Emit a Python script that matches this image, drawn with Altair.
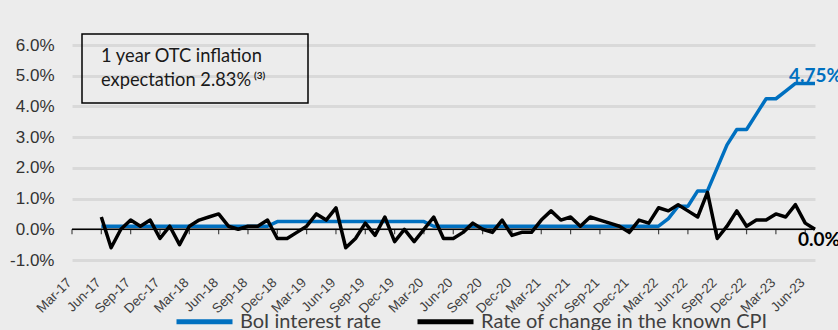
import altair as alt
import pandas as pd

# ---- data ----
tick_labels = ["Mar-17", "Jun-17", "Sep-17", "Dec-17", "Mar-18", "Jun-18", "Sep-18", "Dec-18",
               "Mar-19", "Jun-19", "Sep-19", "Dec-19", "Mar-20", "Jun-20", "Sep-20", "Dec-20",
               "Mar-21", "Jun-21", "Sep-21", "Dec-21", "Mar-22", "Jun-22", "Sep-22", "Dec-22",
               "Mar-23", "Jun-23"]

# monthly points Jun-17 ... Jul-23 (month index 3 ... 76, Mar-17 = 0)
boi_rate = [0.1, 0.1, 0.1, 0.1, 0.1, 0.1, 0.1,                       # Jun-Dec 17
            0.1, 0.1, 0.1, 0.1, 0.1, 0.1, 0.1, 0.1, 0.1, 0.1, 0.1, 0.25,  # 2018
            0.25, 0.25, 0.25, 0.25, 0.25, 0.25, 0.25, 0.25, 0.25, 0.25, 0.25, 0.25,  # 2019
            0.25, 0.25, 0.25, 0.1, 0.1, 0.1, 0.1, 0.1, 0.1, 0.1, 0.1, 0.1,  # 2020
            0.1, 0.1, 0.1, 0.1, 0.1, 0.1, 0.1, 0.1, 0.1, 0.1, 0.1, 0.1,     # 2021
            0.1, 0.1, 0.1, 0.35, 0.75, 0.75, 1.25, 1.25, 2.0, 2.75, 3.25, 3.25,  # 2022
            3.75, 4.25, 4.25, 4.5, 4.75, 4.75, 4.75]                       # Jan-Jul 23

cpi_change = [0.4, -0.6, 0.0, 0.3, 0.1, 0.3, -0.3,                    # Jun-Dec 17
              0.1, -0.5, 0.1, 0.3, 0.4, 0.5, 0.1, 0.0, 0.1, 0.1, 0.3, -0.3,  # 2018
              -0.3, -0.1, 0.1, 0.5, 0.3, 0.7, -0.6, -0.3, 0.2, -0.2, 0.4, -0.4,  # 2019
              0.0, -0.4, 0.0, 0.4, -0.3, -0.3, -0.1, 0.2, 0.0, -0.1, 0.3, -0.2,  # 2020
              -0.1, -0.1, 0.3, 0.6, 0.3, 0.4, 0.1, 0.4, 0.3, 0.2, 0.1, -0.1,     # 2021
              0.3, 0.2, 0.7, 0.6, 0.8, 0.6, 0.4, 1.2, -0.3, 0.1, 0.6, 0.1,       # 2022
              0.3, 0.3, 0.5, 0.4, 0.8, 0.2, 0.0]                                 # Jan-Jul 23

series_names = ["BoI interest rate", "Rate of change in the known CPI"]
series_colors = ["#0070C0", "#000000"]
first_month_index = 3  # Jun-17

rows = []
for i, (b, c) in enumerate(zip(boi_rate, cpi_change)):
    rows.append({"idx": first_month_index + i, "series": series_names[0], "value": b})
    rows.append({"idx": first_month_index + i, "series": series_names[1], "value": c})
df = pd.DataFrame(rows)
ticks_df = pd.DataFrame({"idx": [3 * k for k in range(len(tick_labels))]})
last_idx = first_month_index + len(boi_rate) - 1
end_df = pd.DataFrame({"idx": [last_idx], "boi": [boi_rate[-1]], "cpi": [cpi_change[-1]],
                       "boi_lbl": [f"{boi_rate[-1]:.2f}%"], "cpi_lbl": [f"{cpi_change[-1]:.1f}%"]})

label_array = "[" + ",".join(f"'{t}'" for t in tick_labels) + "]"

W, H = 743, 215
x_scale = alt.Scale(domain=[0, 76], nice=False, zero=False)
y_scale = alt.Scale(domain=[-1, 6], nice=False)

color = alt.Color("series:N", scale=alt.Scale(domain=series_names, range=series_colors),
                  legend=alt.Legend(title=None, orient="none", legendX=102, legendY=246,
                                    direction="horizontal", symbolType="stroke",
                                    symbolStrokeWidth=5, symbolSize=3136,
                                    labelFont="Lato", labelFontSize=20, labelColor="#404040",
                                    labelOffset=5, columnPadding=25, labelLimit=400))

x_axis = alt.Axis(values=[3 * k for k in range(len(tick_labels))],
                  labelExpr=f"{label_array}[round(datum.value/3)]",
                  labelAngle=-45, labelAlign="right", labelBaseline="middle",
                  labelFont="Liberation Sans", labelFontSize=13.5, labelColor="#404040",
                  labelPadding=20, labelOffset=-3, labelOverlap=False, labelBound=False,
                  ticks=False, domain=False, grid=False)
y_axis = alt.Axis(values=[-1, 0, 1, 2, 3, 4, 5, 6],
                  labelExpr="(datum.value < 0 ? '-' : '') + format(abs(datum.value), '.1f') + '%'",
                  labelFont="Liberation Sans", labelFontSize=17, labelColor="#333333",
                  labelPadding=18, labelOverlap=False, ticks=False, domain=False,
                  grid=True, gridColor="#d9d9d9", gridWidth=3)


def X(field):
    return alt.X(field, type="quantitative", scale=x_scale, title=None, axis=x_axis)


def Y(field):
    return alt.Y(field, type="quantitative", scale=y_scale, title=None, axis=y_axis)


y_zero = alt.YDatum(0, scale=y_scale, title=None, axis=y_axis)

base = alt.Chart(df)
blue = base.transform_filter(alt.datum.series == series_names[0]).mark_line(
    strokeWidth=3.5, strokeJoin="round").encode(x=X("idx"), y=Y("value"), color=color)
black = base.transform_filter(alt.datum.series == series_names[1]).mark_line(
    strokeWidth=3.5, strokeJoin="round").encode(x=X("idx"), y=Y("value"), color=color)

zero_line = alt.Chart(alt.Data(values=[{}])).mark_rule(color="black", strokeWidth=1.5).encode(
    y=y_zero)
tick_marks = alt.Chart(ticks_df).mark_tick(orient="vertical", size=5, thickness=1.2,
                                           color="black", yOffset=2.5).encode(
    x=X("idx"), y=y_zero)

boi_lbl = alt.Chart(end_df).mark_text(align="left", baseline="alphabetic", dx=-26, dy=-1,
                                      font="Lato", fontSize=19, fontWeight="bold",
                                      color="#0070C0").encode(
    x=X("idx"), y=Y("boi"), text="boi_lbl:N")
cpi_lbl = alt.Chart(end_df).mark_text(align="left", baseline="alphabetic", dx=-17, dy=17,
                                      font="Lato", fontSize=19, fontWeight="bold",
                                      color="#000000").encode(
    x=X("idx"), y=Y("cpi"), text="cpi_lbl:N")

one = alt.Data(values=[{}])
box = alt.Chart(one).mark_rect(fill="transparent", stroke="black", strokeWidth=1.5).encode(
    x=alt.value(10), x2=alt.value(236), y=alt.value(-11), y2=alt.value(58))
line1 = alt.Chart(one).mark_text(align="left", baseline="middle", font="Lato", fontSize=18.3,
                                 color="#1a1a1a", text="1 year OTC inflation").encode(
    x=alt.value(29), y=alt.value(12))
line2 = alt.Chart(one).mark_text(align="left", baseline="middle", font="Lato", fontSize=18.3,
                                 color="#1a1a1a", text="expectation 2.83%").encode(
    x=alt.value(29), y=alt.value(36))
sup = alt.Chart(one).mark_text(align="left", baseline="middle", font="Lato", fontSize=10,
                               fontWeight="bold", color="#1a1a1a", text="(3)").encode(
    x=alt.value(182), y=alt.value(31))

chart = alt.layer(blue, zero_line, tick_marks, black, boi_lbl, cpi_lbl, box, line1, line2, sup).properties(
    width=W, height=H,
    autosize=alt.AutoSizeParams(type="none"),
    padding={"left": 72, "top": 45, "right": 23, "bottom": 70},
    background="#ececec",
).configure_view(stroke=None).configure_axis(labelOverlap=False)

chart.save("out.html", embed_options={"renderer": "svg", "actions": False})
